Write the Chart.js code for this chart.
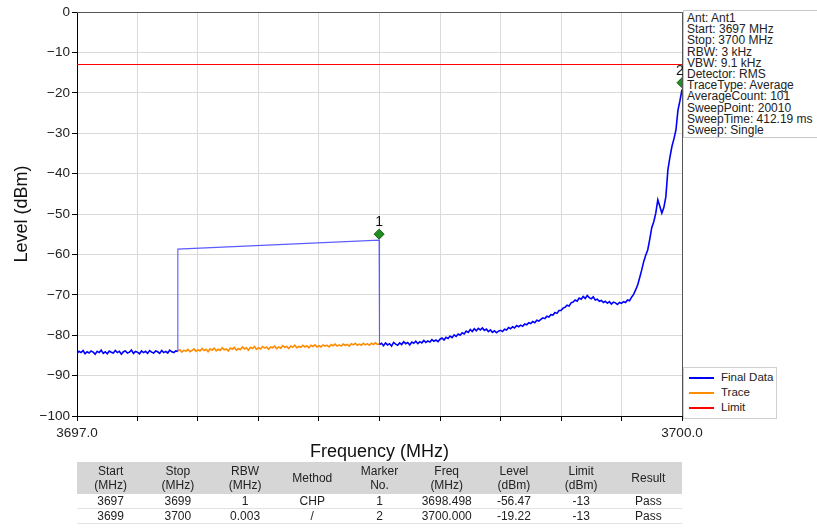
<!DOCTYPE html>
<html>
<head>
<meta charset="utf-8">
<script src="https://cdn.jsdelivr.net/npm/chart.js@4/dist/chart.umd.min.js"></script>
<style>
  body { margin: 0; background: #fff; font-family: "Liberation Sans", Arial, sans-serif; }
  #wrap { position: relative; width: 817px; height: 529px; overflow: hidden; }
  #myChart { position: absolute; left: 0; top: 0; }
  #info {
    position: absolute; left: 683px; top: 10px; width: 140px; height: 128px;
    border: 1px solid #c8c8c8; background: #fff;
    font-size: 12px; line-height: 11.2px; color: #222; padding: 2px 0 0 3px; box-sizing: border-box;
    white-space: nowrap;
  }
  #legend {
    position: absolute; left: 683px; top: 367px; width: 92px; height: 50px;
    border: 1px solid #d0d0d0; background: #fff; font-size: 11.5px; color: #222;
  }
  #legend .row { position: absolute; left: 5px; height: 13px; }
  #legend .sw { position: absolute; left: 0; top: 6px; width: 25px; height: 2px; }
  #legend .tx { position: absolute; left: 32px; top: 0; line-height: 13px; white-space: nowrap; }
  #tbl {
    position: absolute; left: 77px; top: 462px; width: 605px; border-collapse: collapse;
    font-size: 12px; color: #222; table-layout: fixed;
  }
  #tbl th { background: #d6d6d6; font-weight: normal; line-height: 14px; height: 32px; padding: 0; }
  #tbl td { text-align: center; line-height: 13px; height: 14px; padding: 0; border-bottom: 1px solid #e2e2e2; }
</style>
</head>
<body>
<div id="wrap">
  <canvas id="myChart" width="817" height="529"></canvas>
  <div id="info"></div>
  <div id="legend"></div>
  <table id="tbl"><thead><tr id="thead"></tr></thead><tbody id="tbody"></tbody></table>
</div>
<script>
// eixo x: varrimento em MHz
const freqStart = 3697.0;
const freqStop = 3700.0;
const sweepStep = 0.01;

// Final Data (azul) 3697.00 - 3697.49
const finalLowLevels = [
  -84.5, -84.0, -84.3, -83.8, -84.6, -84.1, -84.4, -83.9, -84.2, -84.7,
  -84.0, -84.3, -83.7, -84.5, -84.1, -84.6, -83.9, -84.2, -84.4, -83.8,
  -84.3, -84.0, -84.7, -84.1, -83.9, -84.4, -84.2, -83.7, -84.5, -84.0,
  -84.2, -84.6, -83.9, -84.3, -84.0, -84.5, -83.8, -84.2, -84.4, -83.9,
  -84.1, -84.5, -83.8, -84.3, -84.0, -84.4, -83.7, -84.1, -84.3, -83.9
];

// caixa CHP (potência de canal)
const chpFreqs = [3697.5, 3697.5, 3698.498];
const chpLevels = [-84.0, -58.7, -56.47];

// Final Data (azul) 3698.50 - 3700.00
const finalHighLevels = [
  -82.3, -82.0, -82.6, -81.9, -82.4, -82.1, -82.7, -81.8, -82.2, -82.5,
  -81.9, -82.3, -81.6, -82.1, -81.8, -82.4, -81.7, -82.0, -81.5, -82.1,
  -81.6, -81.9, -81.3, -81.8, -81.4, -81.7, -81.1, -81.5, -81.2, -81.6,
  -81.0, -80.7, -81.2, -80.5, -80.8, -80.2, -80.6, -79.9, -80.3, -79.7,
  -80.0, -79.4, -79.7, -79.0, -79.3, -78.6, -79.1, -78.4, -78.9, -78.3,
  -78.7, -78.2, -78.8, -78.5, -79.1, -78.7, -79.3, -78.9, -79.4, -79.0,
  -78.8, -79.1, -78.5, -78.7, -78.1, -78.4, -77.9, -78.2, -77.6, -77.9,
  -77.5, -77.8, -77.2, -77.4, -76.9, -77.1, -76.6, -76.9, -76.3, -76.5,
  -76.1, -75.7, -75.9, -75.3, -75.5, -74.9, -75.0, -74.4, -74.6, -73.9,
  -73.9, -73.3, -73.1, -72.6, -72.8, -72.0, -71.8, -71.3, -71.6, -70.8,
  -71.1, -70.4, -70.9, -70.2, -70.7, -71.0, -70.5, -71.3, -71.1, -71.6,
  -71.4, -71.9, -71.6, -72.1, -71.7, -72.3, -71.8, -72.0, -72.4, -71.9,
  -72.1, -71.7, -71.9, -71.3, -71.5, -70.6, -69.9, -68.8, -67.6, -65.8,
  -63.9, -61.8, -60.2, -58.9, -56.3, -53.4, -51.9, -49.8, -46.5, -48.1,
  -49.8, -48.4, -45.7, -39.1, -36.0, -33.3, -31.4, -29.2, -24.3, -21.9,
  -19.2
];

// Trace (laranja) 3697.50 - 3698.50
const traceLevels = [
  -83.9, -83.6, -84.2, -83.7, -84.0, -83.5, -84.1, -83.8, -83.4, -84.0,
  -83.6, -83.9, -83.3, -83.8, -83.5, -84.1, -83.4, -83.7, -83.2, -83.9,
  -83.5, -83.8, -83.1, -83.6, -83.4, -83.9, -83.2, -83.5, -83.0, -83.7,
  -83.3, -83.6, -82.9, -83.4, -83.1, -83.7, -83.0, -83.3, -82.8, -83.5,
  -83.1, -83.4, -82.8, -83.2, -82.9, -83.5, -82.9, -83.1, -82.7, -83.3,
  -82.9, -83.2, -82.6, -83.0, -82.8, -83.3, -82.7, -83.0, -82.5, -83.1,
  -82.8, -83.0, -82.5, -82.9, -82.6, -83.1, -82.5, -82.8, -82.4, -82.9,
  -82.6, -82.9, -82.4, -82.7, -82.5, -82.9, -82.3, -82.6, -82.2, -82.7,
  -82.4, -82.7, -82.2, -82.5, -82.3, -82.7, -82.1, -82.4, -82.0, -82.5,
  -82.2, -82.5, -82.0, -82.4, -82.1, -82.5, -82.0, -82.3, -81.9, -82.3,
  -82.2
];

const limitLevel = -13;

// marcadores (posição no gráfico)
const markerNames = ['1', '2'];
const markerFreqs = [3698.498, 3700.0];
const markerLevels = [-55.0, -17.5];

// caixa de informação
const infoLines = [
  'Ant: Ant1', 'Start: 3697 MHz', 'Stop: 3700 MHz', 'RBW: 3 kHz', 'VBW: 9.1 kHz',
  'Detector: RMS', 'TraceType: Average', 'AverageCount: 101', 'SweepPoint: 20010',
  'SweepTime: 412.19 ms', 'Sweep: Single'
];

// tabela de resultados
const tableHeader = ['Start<br>(MHz)', 'Stop<br>(MHz)', 'RBW<br>(MHz)', 'Method', 'Marker<br>No.',
  'Freq<br>(MHz)', 'Level<br>(dBm)', 'Limit<br>(dBm)', 'Result'];
const tableRows = [
  ['3697', '3699', '1', 'CHP', '1', '3698.498', '-56.47', '-13', 'Pass'],
  ['3699', '3700', '0.003', '/', '2', '3700.000', '-19.22', '-13', 'Pass']
];

function sweepPoints(start, levels) {
  return levels.map((v, i) => ({ x: +(start + i * sweepStep).toFixed(3), y: v }));
}

const finalPoints = []
  .concat(sweepPoints(3697.0, finalLowLevels))
  .concat(chpFreqs.map((f, i) => ({ x: f, y: chpLevels[i] })))
  .concat(sweepPoints(3698.5, finalHighLevels));
const tracePoints = sweepPoints(3697.5, traceLevels);
const markerPoints = markerFreqs.map((f, i) => ({ x: f, y: markerLevels[i] }));

// segmentos da caixa CHP um pouco mais claros
const inChp = c => c.p0.parsed.x >= chpFreqs[0] && c.p1.parsed.x <= 3698.5;

// moldura da área do gráfico + etiquetas dos marcadores
const framePlugin = {
  id: 'frame',
  afterDatasetsDraw(chart) {
    const { ctx, chartArea: a } = chart;
    ctx.save();
    ctx.strokeStyle = '#555';
    ctx.lineWidth = 1;
    ctx.beginPath();
    ctx.moveTo(a.left, a.top + 0.5);
    ctx.lineTo(a.right + 0.5, a.top + 0.5);
    ctx.lineTo(a.right + 0.5, a.bottom);
    ctx.stroke();
    ctx.fillStyle = '#111';
    ctx.font = '14px "Liberation Sans", Arial, sans-serif';
    ctx.textAlign = 'center';
    ctx.textBaseline = 'middle';
    const meta = chart.getDatasetMeta(3);
    meta.data.forEach((p, i) => {
      const dx = i === 1 ? -2 : 0;
      ctx.fillText(markerNames[i], p.x + dx, p.y - 12);
    });
    ctx.restore();
  }
};

const minus = v => (v < 0 ? '\u2212' + Math.abs(v) : '' + v);

const ctx = document.getElementById('myChart').getContext('2d');
Chart.defaults.font.family = '"Liberation Sans", Arial, sans-serif';
Chart.defaults.color = '#222';

const myChart = new Chart(ctx, {
  type: 'line',
  data: {
    datasets: [
      { label: 'Final Data', data: finalPoints, borderColor: '#0000ff', borderWidth: 1.6, pointRadius: 0, tension: 0,
        segment: {
          borderColor: c => inChp(c) ? '#5c5cff' : undefined,
          borderWidth: c => inChp(c) ? 1.1 : undefined
        } },
      { label: 'Trace', data: tracePoints, borderColor: '#ff8c00', borderWidth: 1.6, pointRadius: 0, tension: 0 },
      { label: 'Limit', data: [{ x: freqStart, y: limitLevel }, { x: freqStop, y: limitLevel }],
        borderColor: '#ff0000', borderWidth: 1.2, pointRadius: 0 },
      { label: 'Markers', data: markerPoints, showLine: false, pointStyle: 'rectRot', pointRadius: 5,
        backgroundColor: '#1f8f1f', borderColor: '#145a14', borderWidth: 1 }
    ]
  },
  options: {
    responsive: false,
    animation: false,
    layout: { padding: { left: 0, right: 135, top: 12, bottom: 63 } },
    plugins: { legend: { display: false }, tooltip: { enabled: false } },
    scales: {
      x: {
        type: 'linear', min: freqStart, max: freqStop,
        grid: { color: '#dadada', tickColor: '#000', tickLength: 5 },
        border: { color: '#000' },
        ticks: {
          stepSize: 0.3, maxRotation: 0, autoSkip: false, padding: 4,
          font: { size: 13.5 },
          callback: (v, i, ticks) => (i === 0 || i === ticks.length - 1) ? v.toFixed(1) : ''
        },
        title: { display: true, text: 'Frequency (MHz)', font: { size: 18 }, color: '#111', padding: { top: 0, bottom: 3 } },
        afterFit: s => { s.height = 50; }
      },
      y: {
        min: -100, max: 0,
        grid: { color: '#dadada', tickColor: '#000', tickLength: 5 },
        border: { color: '#000' },
        ticks: { stepSize: 10, padding: 2, font: { size: 13.5 }, callback: v => minus(v) },
        title: { display: true, text: 'Level (dBm)', font: { size: 18 }, color: '#111', padding: { top: 11, bottom: 0 } },
        afterFit: s => { s.width = 77; }
      }
    }
  },
  plugins: [framePlugin]
});

// texto de informação
document.getElementById('info').innerHTML = infoLines.map(t => `<div>${t}</div>`).join('');

// legenda
const legendItems = [['Final Data', '#0000ff'], ['Trace', '#ff8c00'], ['Limit', '#ff0000']];
document.getElementById('legend').innerHTML = legendItems.map((it, i) =>
  `<div class="row" style="top:${3 + i * 15}px"><div class="sw" style="background:${it[1]}"></div><div class="tx">${it[0]}</div></div>`
).join('');

// tabela
document.getElementById('thead').innerHTML = tableHeader.map(h => `<th>${h}</th>`).join('');
document.getElementById('tbody').innerHTML = tableRows.map(r =>
  '<tr>' + r.map(c => `<td>${c}</td>`).join('') + '</tr>'
).join('');
</script>
</body>
</html>
